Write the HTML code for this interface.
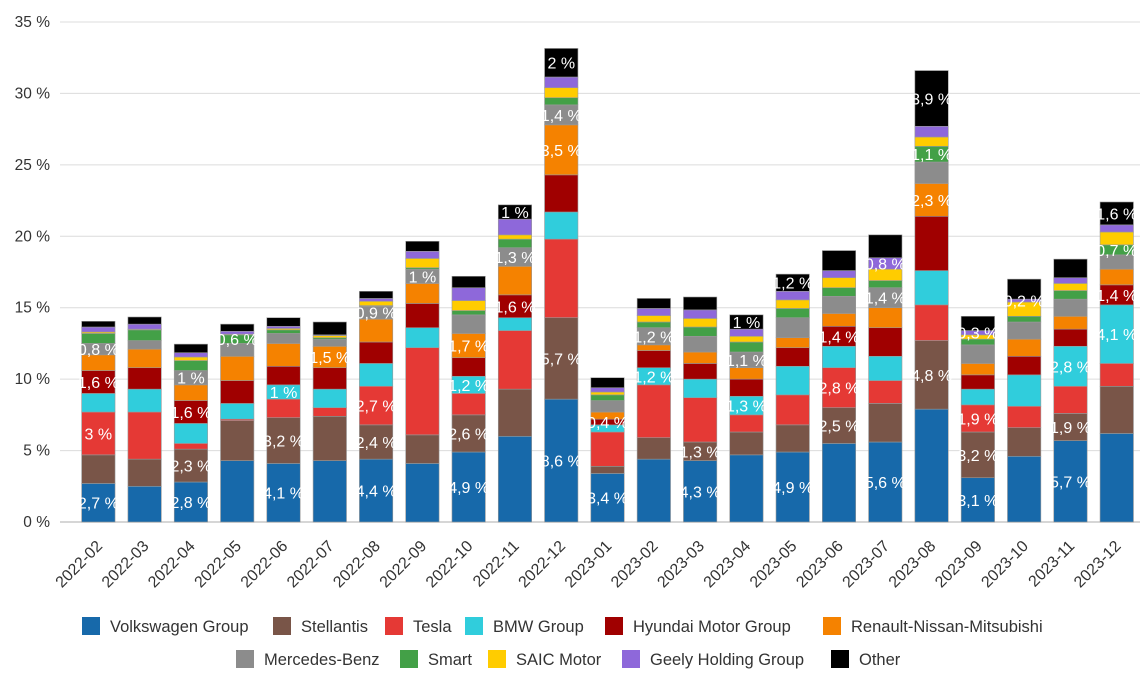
<!DOCTYPE html>
<html><head><meta charset="utf-8"><style>
html,body{margin:0;padding:0;background:#fff;}
svg{display:block;font-family:"Liberation Sans",sans-serif;}
</style></head><body>
<svg id="chart" width="1140" height="684" viewBox="0 0 1140 684" xmlns="http://www.w3.org/2000/svg"></svg>
<script>
const categories = ["2022-02","2022-03","2022-04","2022-05","2022-06","2022-07","2022-08","2022-09","2022-10","2022-11","2022-12","2023-01","2023-02","2023-03","2023-04","2023-05","2023-06","2023-07","2023-08","2023-09","2023-10","2023-11","2023-12"];
const seriesNames = ["Volkswagen Group","Stellantis","Tesla","BMW Group","Hyundai Motor Group","Renault-Nissan-Mitsubishi","Mercedes-Benz","Smart","SAIC Motor","Geely Holding Group","Other"];
const seriesColors = ["#1769aa","#795548","#e53935","#30cddc","#a00000","#f58200","#8c8c8c","#43a047","#ffcc00","#8e68da","#000000"];
const volkswagen = [2.7,2.5,2.8,4.3,4.1,4.3,4.4,4.1,4.9,6.0,8.6,3.4,4.4,4.3,4.7,4.9,5.5,5.6,7.9,3.1,4.6,5.7,6.2];
const stellantis = [2.0,1.9,2.3,2.8,3.2,3.1,2.4,2.0,2.6,3.3,5.7,0.5,1.5,1.3,1.6,1.9,2.5,2.7,4.8,3.2,2.0,1.9,3.3];
const tesla = [3.0,3.3,0.4,0.1,1.3,0.6,2.7,6.1,1.5,4.1,5.5,2.4,3.7,3.1,1.2,2.1,2.8,1.6,2.5,1.9,1.5,1.9,1.6];
const bmw = [1.3,1.6,1.4,1.1,1.0,1.3,1.6,1.4,1.2,0.9,1.9,0.5,1.2,1.3,1.3,2.0,1.5,1.7,2.4,1.1,2.2,2.8,4.1];
const hyundai = [1.6,1.5,1.6,1.6,1.3,1.5,1.5,1.7,1.3,1.6,2.6,0.4,1.2,1.1,1.2,1.3,1.4,2.0,3.8,1.0,1.3,1.2,1.4];
const renault = [1.1,1.3,1.1,1.7,1.6,1.5,1.6,1.4,1.7,2.0,3.5,0.5,0.4,0.8,0.8,0.7,0.9,1.4,2.3,0.8,1.2,0.9,1.1];
const mercedes = [0.8,0.6,1.0,0.9,0.7,0.5,0.9,1.0,1.3,1.3,1.4,0.8,1.2,1.1,1.1,1.4,1.2,1.4,1.5,1.3,1.2,1.2,1.0];
const smart = [0.7,0.75,0.7,0.6,0.25,0.1,0.05,0.1,0.3,0.6,0.5,0.4,0.4,0.65,0.7,0.65,0.6,0.5,1.1,0.4,0.4,0.6,0.7];
const saic = [0.1,0.05,0.25,0.05,0.1,0.15,0.3,0.65,0.7,0.3,0.7,0.2,0.45,0.6,0.4,0.6,0.7,0.8,0.65,0.3,1.0,0.5,0.9];
const geely = [0.35,0.35,0.3,0.2,0.15,0.05,0.2,0.5,0.9,1.1,0.75,0.3,0.5,0.6,0.5,0.6,0.5,0.8,0.75,0.3,0.2,0.4,0.5];
const other = [0.4,0.5,0.6,0.5,0.6,0.9,0.5,0.7,0.8,1.0,2.0,0.7,0.7,0.9,1.0,1.2,1.4,1.6,3.9,1.0,1.4,1.3,1.6];
const seriesValues = [volkswagen,stellantis,tesla,bmw,hyundai,renault,mercedes,smart,saic,geely,other];
// which segments carry a printed value label: [categoryIndex, seriesIndex]
const labeledSegments = [[0,0],[0,2],[0,4],[0,6],[2,0],[2,1],[2,4],[2,6],[3,7],[4,0],[4,1],[4,3],[5,5],[6,0],[6,1],[6,2],[6,6],[7,6],[8,0],[8,1],[8,3],[8,5],[9,4],[9,6],[9,10],[10,0],[10,1],[10,5],[10,6],[10,10],[11,0],[11,4],[12,3],[12,6],[13,0],[13,1],[14,3],[14,6],[14,10],[15,0],[15,10],[16,1],[16,2],[16,4],[17,0],[17,6],[17,9],[18,1],[18,5],[18,7],[18,10],[19,0],[19,1],[19,2],[19,9],[20,9],[21,0],[21,1],[21,3],[22,3],[22,4],[22,7],[22,10]];
const yTicks = [0,5,10,15,20,25,30,35];

const NS="http://www.w3.org/2000/svg";
const svg=document.getElementById('chart');
const plotL=75.2, plotR=1139.9, y0=522, pxPerUnit=500/35;
const band=(plotR-plotL)/categories.length, barW=33.4;
function xCenter(i){return plotL+band*(i+0.5);}
function yPos(v){return y0-v*pxPerUnit;}
function mk(tag,attrs,parent){const e=document.createElementNS(NS,tag);for(const k in attrs)e.setAttribute(k,attrs[k]);(parent||svg).appendChild(e);return e;}
function fmt(v){let s=(Math.round(v*10)/10).toString().replace('.',',');return s+' %';}

const grid=mk('g',{});


yTicks.forEach(t=>{
  const l=mk('line',{x1:60,x2:1140,y1:yPos(t),y2:yPos(t),stroke:t===0?'#c8c8c8':'#dcdcdc','stroke-width':t===0?1.5:1},grid);
  
  
  const tx=mk('text',{x:50,y:yPos(t)+5,'text-anchor':'end','font-size':15.5,fill:'#333'},grid);
  tx.textContent=t+' %';
  
  
});

const bars=mk('g',{});


const labelLayer=mk('g',{});
const isLabeled=(c,s)=>labeledSegments.some(p=>p[0]===c&&p[1]===s);
categories.forEach((cat,ci)=>{
  let cum=0;
  const g=mk('g',{},bars);
  
  
  seriesValues.forEach((arr,si)=>{
    const v=arr[ci];
    const yTop=yPos(cum+v), yBot=yPos(cum);
    const r=mk('rect',{x:xCenter(ci)-barW/2,y:yTop,width:barW,height:Math.max(0,yBot-yTop),fill:seriesColors[si],stroke:'#9a9a9a','stroke-width':0.6},g);
    
    
    if(isLabeled(ci,si)){
      const t=mk('text',{x:xCenter(ci),y:(yTop+yBot)/2+6,'text-anchor':'middle','font-size':16,fill:'#fff'},labelLayer);
      t.textContent=fmt(v);
      
      
    }
    cum+=v;
  });
  const ax=xCenter(ci)+5, ay=547;
  const xl=mk('text',{x:ax,y:ay,'text-anchor':'end','font-size':16,fill:'#333',transform:'rotate(-45 '+ax+' '+ay+')'});
  xl.textContent=cat;
  
  
});
svg.appendChild(labelLayer);



const legendPos=[[82,617],[273,617],[385,617],[465,617],[605,617],[823,617],[236,650],[400,650],[488,650],[622,650],[831,650]];
const legend=mk('g',{});


seriesNames.forEach((n,i)=>{
  const [x,y]=legendPos[i];
  const g=mk('g',{},legend);
  
  
  mk('rect',{x:x,y:y,width:18,height:18,fill:seriesColors[i]},g);
  const t=mk('text',{x:x+28,y:y+15,'font-size':16.5,fill:'#333'},g);
  t.textContent=n;
});
</script>
</body></html>
